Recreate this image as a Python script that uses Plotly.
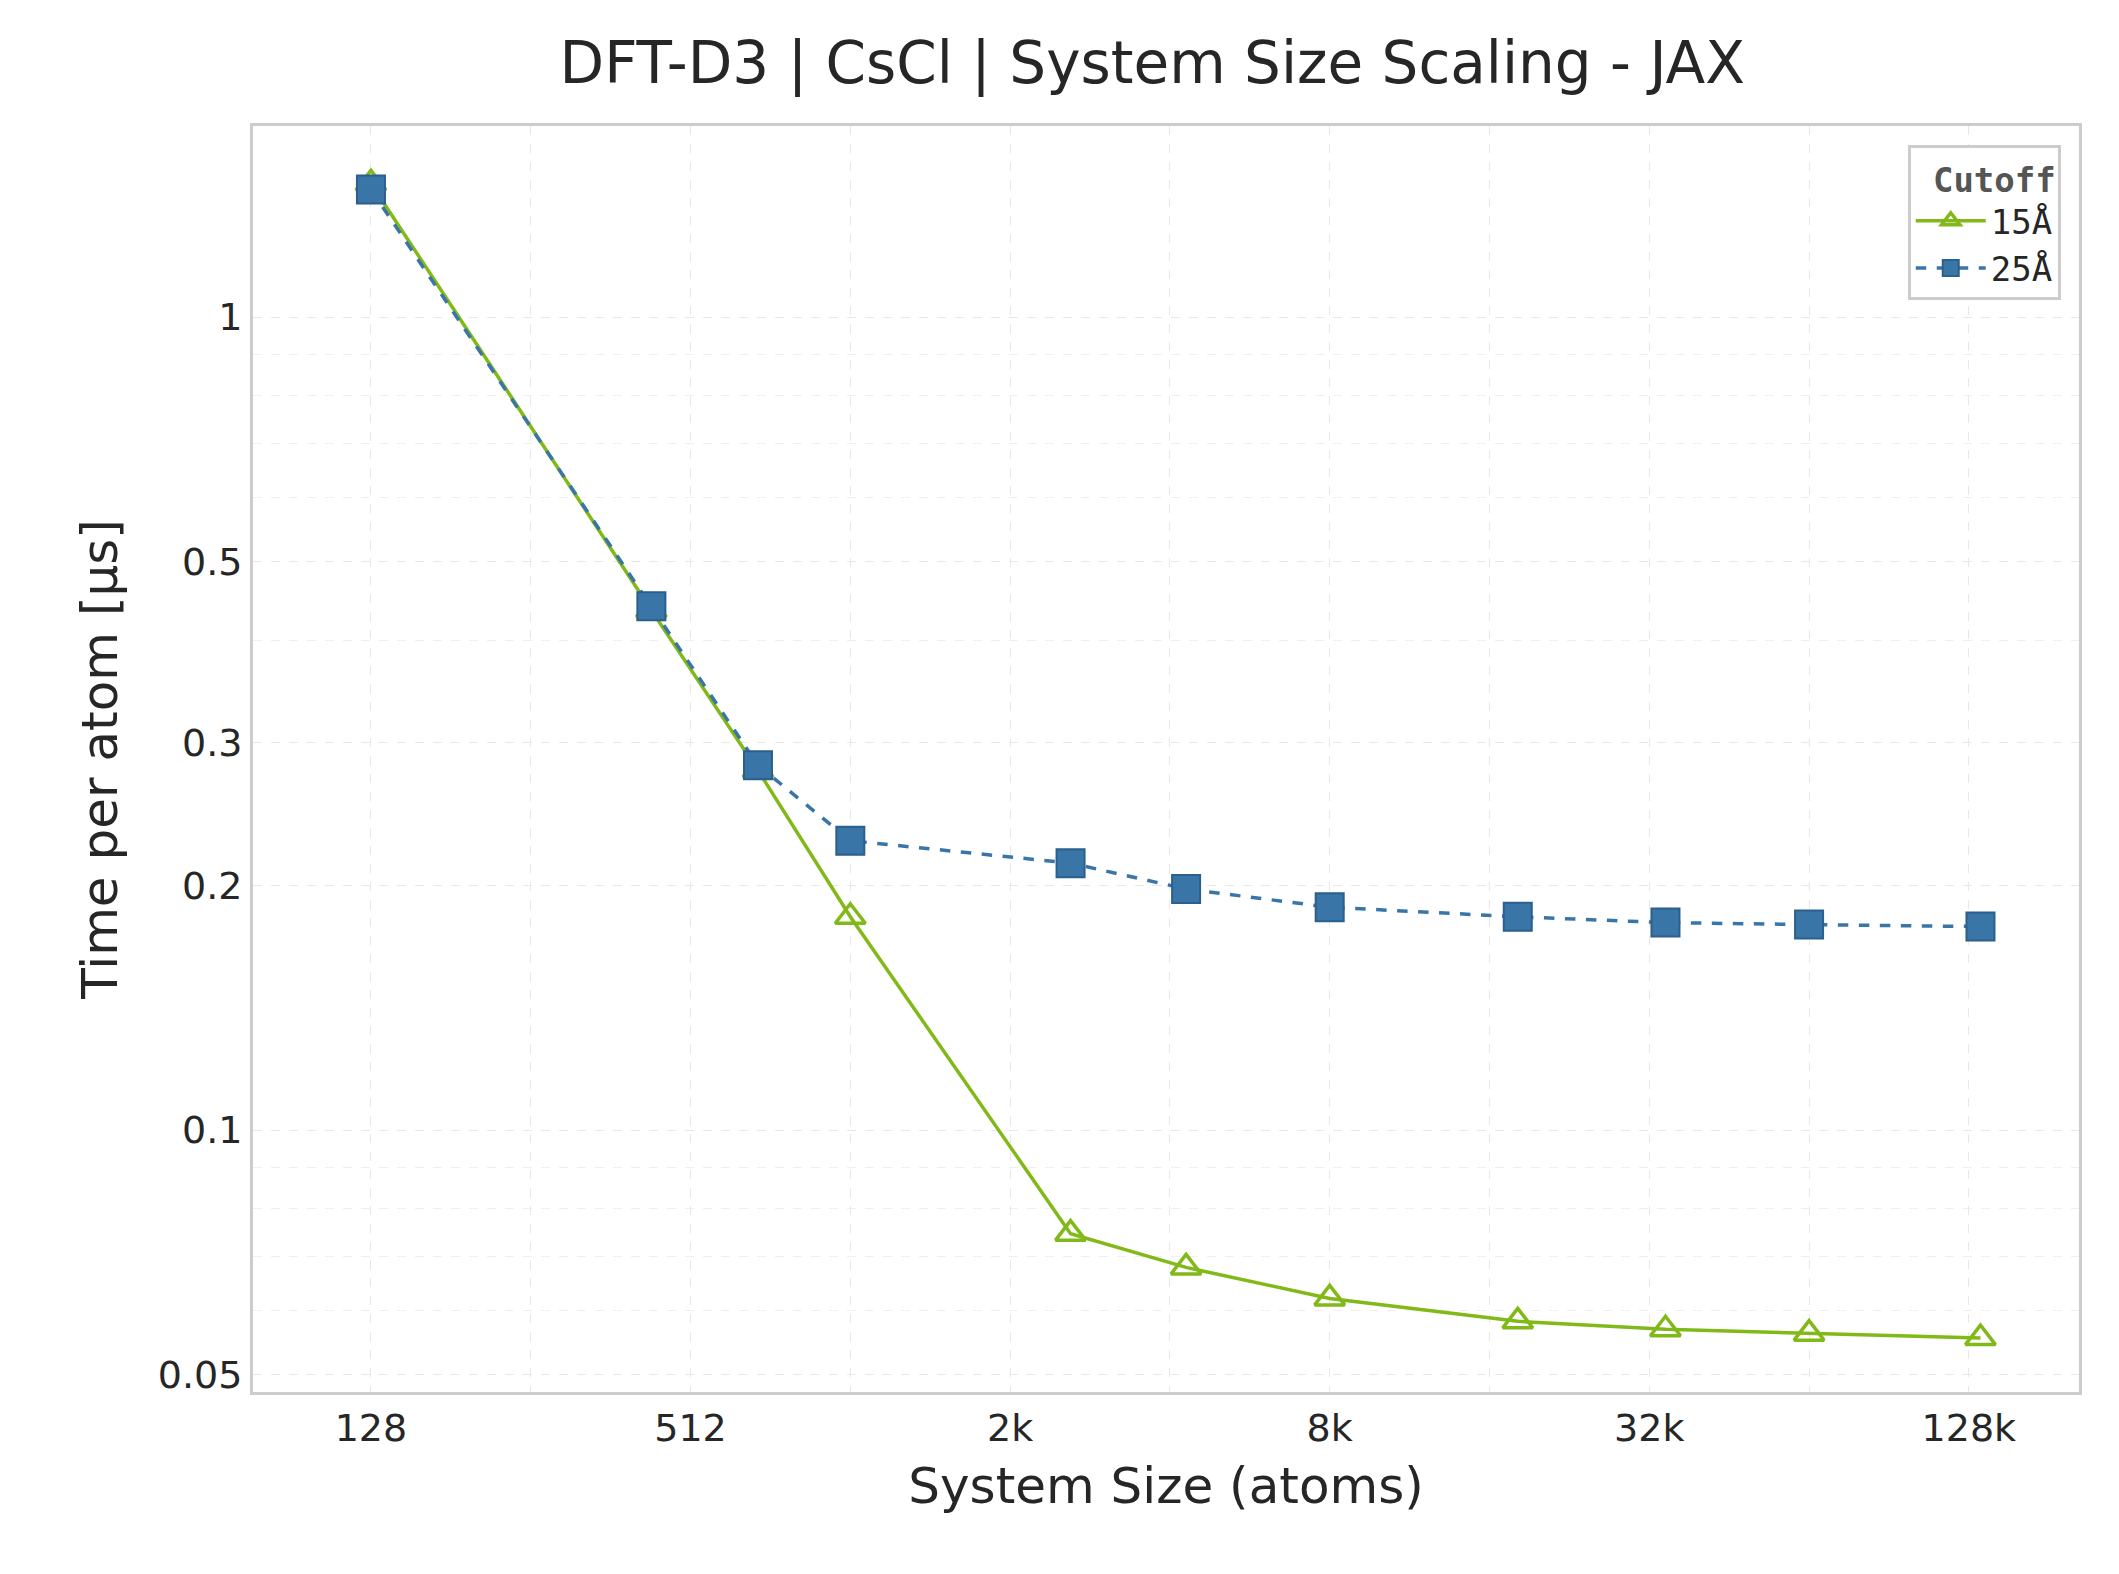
import plotly.graph_objects as go

atoms = [128, 432, 686, 1024, 2662, 4394, 8192, 18522, 35152, 65536, 137842]
t_15 = [1.46, 0.436, 0.277, 0.183, 0.0746, 0.0678, 0.0621, 0.0582, 0.0569, 0.0562, 0.0555]
t_25 = [1.435, 0.441, 0.281, 0.227, 0.213, 0.198, 0.188, 0.183, 0.180, 0.179, 0.178]

x_ticks = [2 ** k for k in range(7, 18)]
x_labels = ["128", "", "512", "", "2k", "", "8k", "", "32k", "", "128k"]
y_ticks = [0.05, 0.1, 0.2, 0.3, 0.5, 1]
y_minor = [0.06, 0.07, 0.08, 0.09, 0.4, 0.6, 0.7, 0.8, 0.9]

green = "#80b918"
blue = "#3a75a8"

fig = go.Figure()
fig.add_trace(go.Scatter(
    x=atoms, y=t_15, name="15Å", mode="lines+markers",
    line=dict(color=green, width=3.5),
    marker=dict(symbol="triangle-up-open", size=26, color=green, line=dict(width=3.5)),
))
fig.add_trace(go.Scatter(
    x=atoms, y=t_25, name="25Å", mode="lines+markers",
    line=dict(color=blue, width=3.5, dash="dash"),
    marker=dict(symbol="square", size=28, color=blue, line=dict(color="#2b5f8c", width=2)),
))

axis_common = dict(
    showline=True, linecolor="#cccccc", linewidth=3, mirror=True,
    gridcolor="#e8e8e8", gridwidth=1, griddash="dash", zeroline=False,
    tickfont=dict(size=38, color="#262626"), ticks="",
)
fig.update_xaxes(
    type="log", range=[1.885, 5.325], tickvals=x_ticks, ticktext=x_labels,
    title=dict(text="System Size (atoms)", font=dict(size=50, color="#262626"), standoff=20),
    **axis_common,
)
fig.update_yaxes(
    type="log", range=[-1.322, 0.235], tickvals=y_ticks,
    ticktext=["0.05", "0.1", "0.2", "0.3", "0.5", "1"],
    minor=dict(tickvals=y_minor, showgrid=True, gridcolor="#efefef", griddash="dash"),
    title=dict(text="Time per atom [µs]", font=dict(size=50, color="#262626"), standoff=25),
    **axis_common,
)

fig.update_layout(
    width=2119, height=1574,
    margin=dict(l=245, r=48, t=118, b=190),
    plot_bgcolor="white", paper_bgcolor="white",
    font=dict(family="DejaVu Sans"),
    title=dict(text="DFT-D3 | CsCl | System Size Scaling - JAX", x=0.54, xanchor="center",
               y=0.965, yanchor="middle", font=dict(size=58, color="#262626")),
    legend=dict(
        x=0.99, y=0.985, xanchor="right", yanchor="top",
        title=dict(text="<b>Cutoff</b>", side="top right",
                   font=dict(family="DejaVu Sans Mono", size=34, color="#555555")),
        font=dict(family="DejaVu Sans Mono", size=34, color="#262626"),
        bordercolor="#cccccc", borderwidth=3, bgcolor="white",
        itemwidth=70, tracegroupgap=8,
    ),
)

fig.write_html("out.html")
